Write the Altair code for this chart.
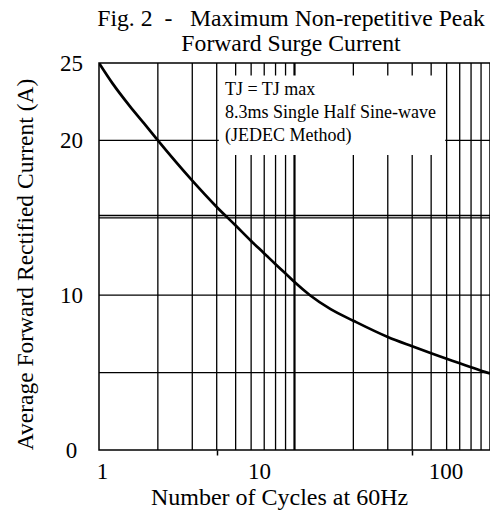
import altair as alt
import pandas as pd

FONT = "Liberation Serif"

# curve (cycles at 60 Hz, amps)
CYCLES = [1, 1.17, 1.44, 1.7, 2, 3, 4, 5, 6, 7, 8, 9, 10, 12, 15.3,
          20, 30, 40, 50, 60, 70, 80, 90, 100]
AMPS = [25.0, 23.7, 22.2, 21.1, 20.0, 17.4, 15.7, 14.5, 13.5, 12.7, 12.0, 11.4, 10.85,
        10.0, 9.1, 8.35, 7.3, 6.7, 6.25, 5.9, 5.6, 5.35, 5.12, 4.95]

GRID_X = [2, 3, 4, 5, 6, 7, 8, 9, 10, 20, 30, 40, 50, 60, 70, 80, 90]
GRID_Y = [5, 10, 15, 15.15, 20]
Y_LABELS = [0, 10, 20, 25]
X_TICKS = [4, 40]
X_LABEL_POS = [1.036, 6.58, 59.2]
X_LABELS = ["1", "10", "100"]

NB = "\u00a0"
TITLE = ["Fig. 2" + NB + " -" + NB + NB + " Maximum Non-repetitive Peak",
         NB + NB + NB + "Forward Surge Current"]
X_TITLE = "Number of Cycles at 60Hz"
Y_TITLE = "Average Forward Rectified Current (A)"
NOTE = ["TJ = TJ max", "8.3ms Single Half Sine-wave", "(JEDEC Method)"]
NOTE_BOX = {"x": 4.1, "x2": 59.0, "y": 24.2, "y2": 19.06}
NOTE_AT = {"x": 4.41, "y": 22.93}

curve = pd.DataFrame({"cycles": CYCLES, "amps": AMPS})
gx = pd.DataFrame({"gx": GRID_X})
gy = pd.DataFrame({"gy": GRID_Y})
one = pd.DataFrame({"k": [0]})

xscale = alt.Scale(type="log", domain=[1, 100], nice=False)
yscale = alt.Scale(domain=[0, 25], nice=False, zero=True)

tick_test = " || ".join(f"datum.value == {v}" for v in X_TICKS)
label_expr = "''"
for pos, lab in reversed(list(zip(X_LABEL_POS, X_LABELS))):
    label_expr = f"datum.value == {pos} ? '{lab}' : ({label_expr})"

x_axis = alt.Axis(
    values=X_TICKS + X_LABEL_POS,
    labelExpr=label_expr,
    tickSize=5, tickWidth=1.5, tickColor="black",
    tickOpacity={"condition": {"test": tick_test, "value": 1}, "value": 0},
    domain=False, grid=False,
    labelFont=FONT, labelFontSize=23, labelColor="black", labelPadding=5,
    labelAlign="center", labelBaseline="top", labelFlush=False, labelOverlap=False,
    title=X_TITLE, titleFont=FONT, titleFontSize=24, titleFontWeight="normal",
    titleColor="black", titleX=180, titleY=54, titleBaseline="alphabetic",
    titleAlign="center",
)
y_axis = alt.Axis(
    values=Y_LABELS, ticks=False, domain=False, grid=False,
    labelFont=FONT, labelFontSize=23, labelColor="black", labelPadding=28,
    labelAlign="center", labelBaseline="middle", labelFlush=False, labelOverlap=False,
    title=Y_TITLE, titleFont=FONT, titleFontSize=23.5, titleFontWeight="normal",
    titleColor="black", titleAngle=270, titleX=-74, titleY=201,
    titleAlign="center", titleBaseline="middle",
)

line = alt.Chart(curve).mark_line(color="black", strokeWidth=2.7, clip=True,
                                  interpolate="monotone").encode(
    x=alt.X("cycles:Q", scale=xscale, axis=x_axis),
    y=alt.Y("amps:Q", scale=yscale, axis=y_axis),
)
vrules = alt.Chart(gx).mark_rule(color="black").encode(
    x=alt.X("gx:Q", scale=xscale, axis=x_axis),
    strokeWidth=alt.condition("datum.gx == 10", alt.value(2.2), alt.value(1.3)),
)
hrules = alt.Chart(gy).mark_rule(color="black", strokeWidth=1.3).encode(
    y=alt.Y("gy:Q", scale=yscale, axis=y_axis),
)
box = alt.Chart(one).mark_rect(color="white", opacity=1).encode(
    x=alt.XDatum(NOTE_BOX["x"], axis=x_axis), x2=alt.X2Datum(NOTE_BOX["x2"]),
    y=alt.YDatum(NOTE_BOX["y"], axis=y_axis), y2=alt.Y2Datum(NOTE_BOX["y2"]),
)
note = alt.Chart(one).mark_text(
    text=NOTE, align="left", baseline="alphabetic", font=FONT, fontSize=18,
    lineHeight=23, color="black",
).encode(x=alt.XDatum(NOTE_AT["x"], axis=x_axis), y=alt.YDatum(NOTE_AT["y"], axis=y_axis))

chart = alt.layer(vrules, hrules, line, box, note).properties(
    width=391, height=387,
    autosize=alt.AutoSizeParams(type="none"),
    padding={"left": 91, "top": 55, "right": 0, "bottom": 60},
    background="white",
    title=alt.TitleParams(text=TITLE, font=FONT, fontSize=23.7, fontWeight="normal",
                          color="black", anchor="middle", lineHeight=25, offset=8,
                          dy=12, dx=-3.5),
).configure_view(stroke="black", strokeWidth=1.5)

chart.save("out.html", embed_options={"renderer": "svg", "actions": False})
